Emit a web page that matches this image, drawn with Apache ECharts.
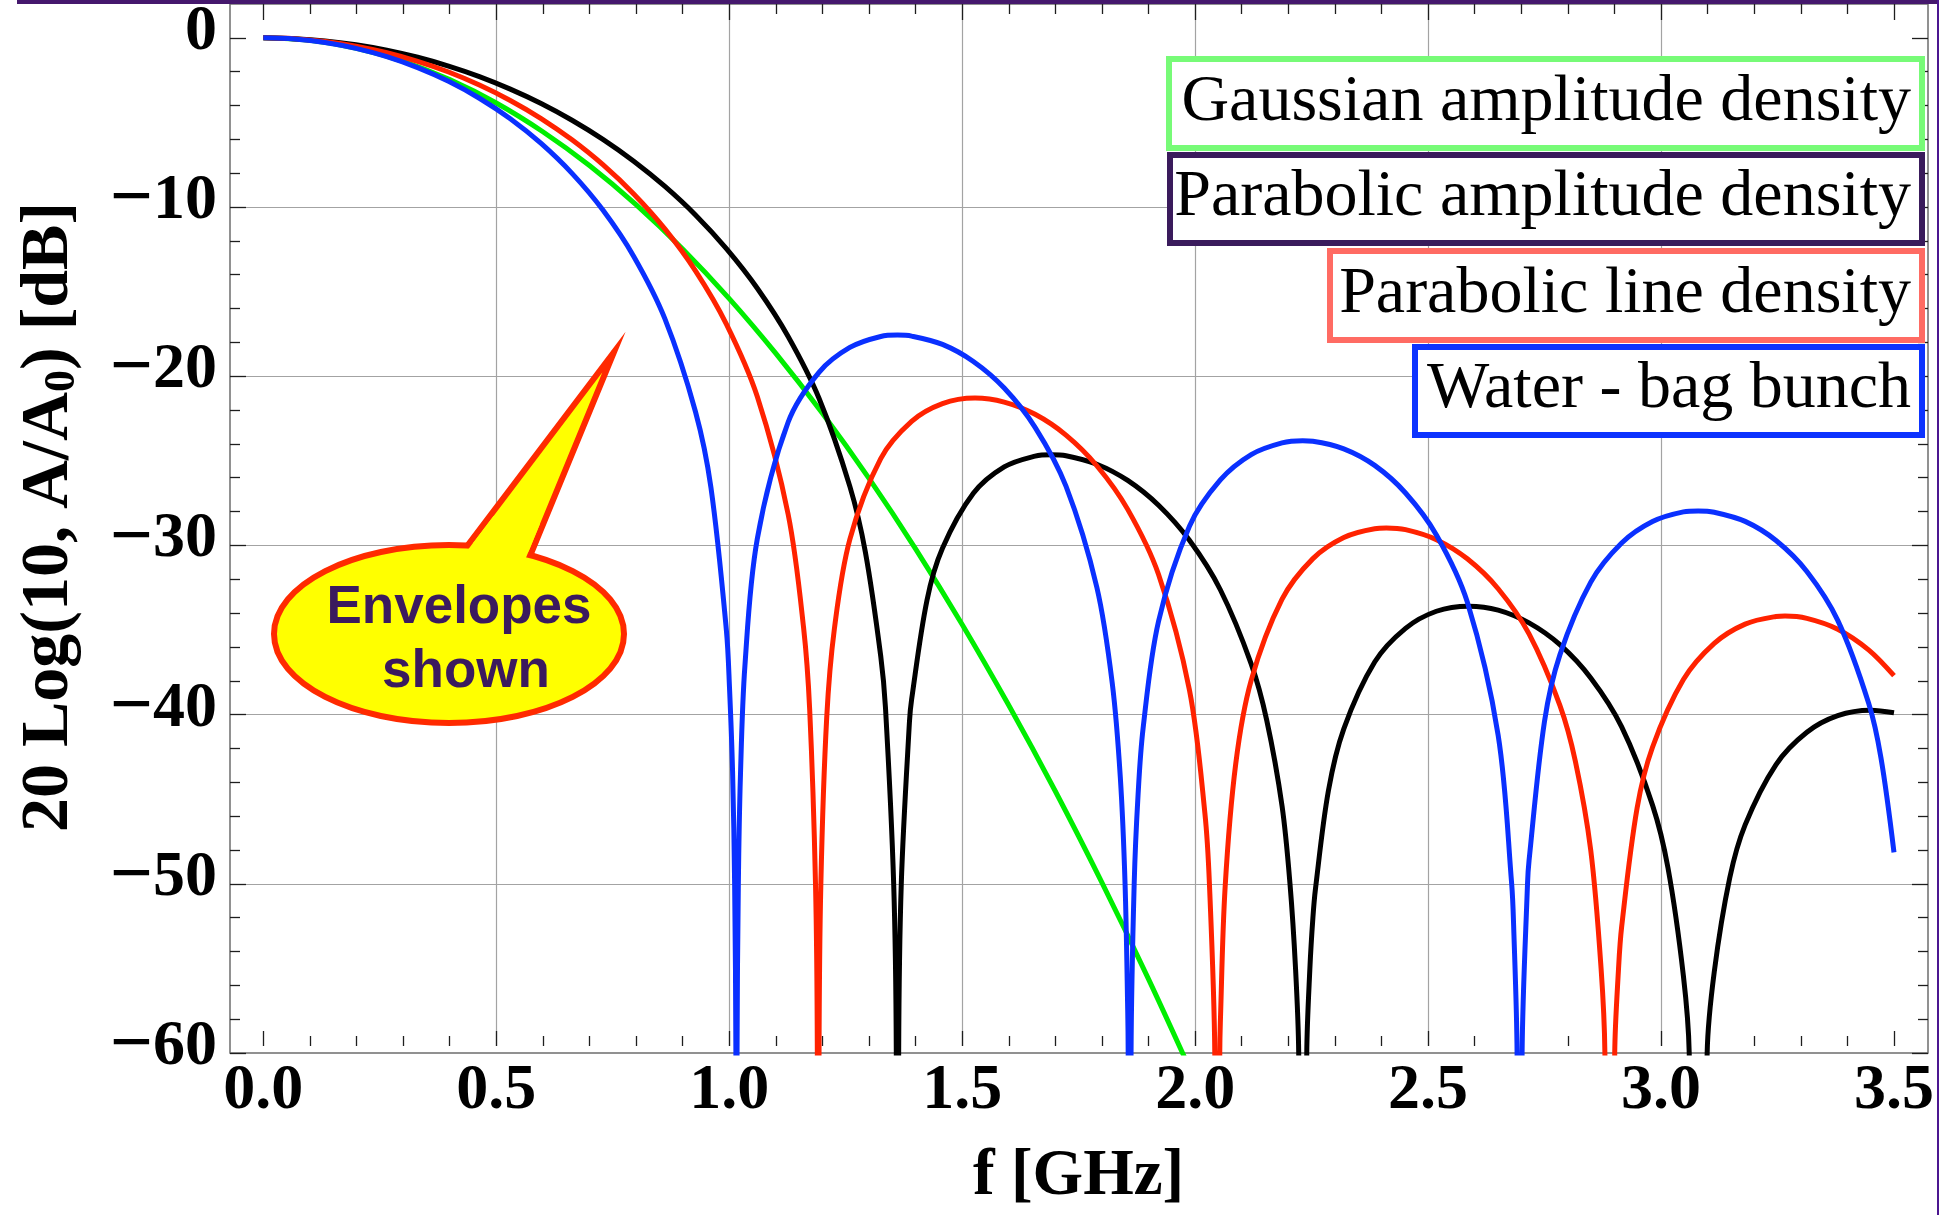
<!DOCTYPE html>
<html>
<head>
<meta charset="utf-8">
<script src="https://cdn.jsdelivr.net/npm/echarts@6/dist/echarts.min.js"></script>
<style>
html,body{margin:0;padding:0;background:#ffffff;}
#chart{width:1955px;height:1215px;}
</style>
</head>
<body>
<div id="chart"></div>
<script>
// ---------------- data ----------------
const xTicks = [0.0, 0.5, 1.0, 1.5, 2.0, 2.5, 3.0, 3.5];
const yTicks = [0, -10, -20, -30, -40, -50, -60];
const seriesNames = ['Gaussian amplitude density', 'Parabolic amplitude density', 'Parabolic line density', 'Water - bag bunch'];
const xTitle = 'f [GHz]';
const calloutLines = ['Envelopes', 'shown'];

// [f (GHz), 20 log10(A/A0) (dB)]
const gaussian = [[0,0],[0.1,-0.15],[0.2,-0.62],[0.3,-1.39],[0.4,-2.47],[0.5,-3.85],[0.6,-5.55],[0.7,-7.55],[0.8,-9.86],[0.9,-12.48],[1.0,-15.41],[1.1,-18.65],[1.2,-22.19],[1.3,-26.04],[1.4,-30.20],[1.5,-34.67],[1.6,-39.45],[1.7,-44.53],[1.8,-49.93],[1.9,-55.63],[2.0,-61.64]];

const parabolicAmplitude = [[0,0],[0.0663,-0.05],[0.1325,-0.18],[0.1988,-0.41],[0.2650,-0.73],[0.3313,-1.15],[0.3976,-1.67],[0.4638,-2.29],[0.5301,-3.03],[0.5963,-3.88],[0.6626,-4.87],[0.7289,-6.00],[0.7951,-7.29],[0.8614,-8.77],[0.9276,-10.47],[0.9939,-12.46],[1.0602,-14.80],[1.1264,-17.65],[1.1927,-21.30],[1.2589,-26.51],[1.2921,-30.37],[1.3252,-36.54],[1.3354,-39.60],[1.3530,-50.00],[1.3586,-60.00],[1.3611,-100],[1.3637,-60.00],[1.3693,-50.00],[1.3869,-40.40],[1.3915,-39.10],[1.4246,-33.22],[1.4577,-30.17],[1.5240,-26.92],[1.5902,-25.36],[1.6565,-24.72],[1.6910,-24.64],[1.7228,-24.70],[1.7890,-25.20],[1.8553,-26.16],[1.9215,-27.63],[1.9878,-29.70],[2.0541,-32.62],[2.1203,-37.00],[2.1535,-40.31],[2.1866,-45.41],[2.2036,-50.00],[2.2155,-55.00],[2.2223,-60.00],[2.2309,-100],[2.2396,-60.00],[2.2463,-55.00],[2.2528,-52.00],[2.2583,-50.30],[2.2860,-44.51],[2.3191,-40.84],[2.3854,-36.89],[2.4516,-34.90],[2.5179,-33.89],[2.5871,-33.59],[2.6504,-33.82],[2.7167,-34.58],[2.7829,-35.87],[2.8492,-37.84],[2.9155,-40.73],[2.9817,-45.35],[3.0149,-49.06],[3.0480,-55.44],[3.0605,-60.00],[3.0797,-100],[3.0990,-60.00],[3.1142,-55.21],[3.1474,-49.66],[3.1805,-46.52],[3.2468,-42.95],[3.3130,-41.04],[3.3793,-40.06],[3.4496,-39.74],[3.5000,-39.89]];

const parabolicLine = [[0,0],[0.0663,-0.05],[0.1325,-0.22],[0.1988,-0.49],[0.2650,-0.88],[0.3313,-1.39],[0.3976,-2.02],[0.4638,-2.79],[0.5301,-3.70],[0.5963,-4.77],[0.6626,-6.03],[0.7289,-7.50],[0.7951,-9.23],[0.8614,-11.28],[0.9276,-13.77],[0.9939,-16.92],[1.0602,-21.20],[1.1264,-28.15],[1.1596,-34.86],[1.1727,-39.70],[1.1852,-50.00],[1.1891,-60.00],[1.1909,-100],[1.1928,-60.00],[1.1967,-50.00],[1.2092,-40.20],[1.2258,-34.91],[1.2589,-29.64],[1.3252,-24.87],[1.3915,-22.67],[1.4577,-21.62],[1.5276,-21.29],[1.5902,-21.53],[1.6565,-22.25],[1.7228,-23.48],[1.7890,-25.29],[1.8553,-27.87],[1.9215,-31.72],[1.9878,-38.55],[2.0209,-45.81],[2.0307,-50.00],[2.0422,-60.00],[2.0475,-100],[2.0529,-60.00],[2.0541,-58.23],[2.0644,-50.20],[2.0872,-42.90],[2.1203,-37.98],[2.1866,-33.18],[2.2528,-30.78],[2.3191,-29.53],[2.3854,-29.01],[2.4105,-28.97],[2.4516,-29.07],[2.5179,-29.66],[2.5842,-30.79],[2.6504,-32.56],[2.7167,-35.23],[2.7829,-39.45],[2.8160,-42.74],[2.8492,-48.03],[2.8713,-55.00],[2.8795,-60.00],[2.8900,-100],[2.9006,-60.00],[2.9088,-55.00],[2.9155,-52.53],[2.9486,-45.53],[2.9817,-41.93],[3.0480,-37.93],[3.1142,-35.79],[3.1805,-34.65],[3.2468,-34.20],[3.2661,-34.17],[3.3130,-34.31],[3.3793,-34.95],[3.4455,-36.17],[3.5000,-37.70]];

const waterBag = [[0,0],[0.0663,-0.07],[0.1325,-0.27],[0.1988,-0.62],[0.2650,-1.11],[0.3313,-1.76],[0.3976,-2.57],[0.4638,-3.57],[0.5301,-4.78],[0.5963,-6.24],[0.6626,-8.01],[0.7289,-10.18],[0.7951,-12.92],[0.8614,-16.57],[0.9276,-22.10],[0.9608,-26.58],[0.9939,-35.01],[1.0006,-38.40],[1.0072,-43.36],[1.0116,-50.00],[1.0143,-60.00],[1.0156,-100],[1.0168,-60.00],[1.0196,-50.00],[1.0241,-43.60],[1.0337,-37.11],[1.0602,-29.62],[1.1264,-22.72],[1.1927,-19.77],[1.2589,-18.30],[1.3252,-17.65],[1.3611,-17.57],[1.3915,-17.63],[1.4577,-18.12],[1.5240,-19.13],[1.5902,-20.70],[1.6565,-23.02],[1.7228,-26.50],[1.7890,-32.47],[1.8222,-38.16],[1.8394,-43.70],[1.8496,-50.00],[1.8553,-57.47],[1.8563,-60.00],[1.8594,-100],[1.8625,-60.00],[1.8692,-50.00],[1.8774,-44.80],[1.8884,-40.79],[1.9215,-34.48],[1.9878,-28.86],[2.0541,-26.13],[2.1203,-24.63],[2.1866,-23.94],[2.2309,-23.81],[2.2528,-23.84],[2.3191,-24.29],[2.3854,-25.27],[2.4516,-26.90],[2.5179,-29.38],[2.5842,-33.35],[2.6504,-41.22],[2.6794,-50.00],[2.6836,-52.45],[2.6910,-60.00],[2.6964,-100],[2.7018,-60.00],[2.7134,-50.00],[2.7167,-48.63],[2.7498,-40.41],[2.7829,-36.47],[2.8492,-32.17],[2.9155,-29.86],[2.9817,-28.59],[3.0480,-28.02],[3.0797,-27.96],[3.1142,-28.04],[3.1805,-28.58],[3.2468,-29.71],[3.3130,-31.54],[3.3793,-34.43],[3.4455,-39.32],[3.4720,-42.55],[3.5000,-48.14]];

// ---------------- presentation ----------------
const seriesData = [gaussian, parabolicAmplitude, parabolicLine, waterBag];
const seriesColors = ['#00ee00', '#000000', '#ff2200', '#0a30ff'];
const legendBorders = ['#77fb77', '#3a1b5c', '#ff6b63', '#0d33ff'];
const SERIF = '"Liberation Serif","Times New Roman",Times,serif';
const SANS = '"Liberation Sans",Arial,Helvetica,sans-serif';
const TICK = {color: '#1e1e1e', width: 1.3};
const fmtY = v => (v === 0 ? '{n|0}' : '{m|\u2212}{n|' + Math.abs(v) + '}');
const fmtX = v => v.toFixed(1);

const chart = echarts.init(document.getElementById('chart'), null, {renderer: 'canvas', width: 1955, height: 1215});

const tickLabelStyle = {fontFamily: SERIF, fontWeight: 'bold', fontSize: 64, color: '#000'};

const legendBoxes = [
  {x: 1169, y: 59, w: 753, h: 89},
  {x: 1170, y: 155, w: 752, h: 88},
  {x: 1330, y: 251, w: 592, h: 89},
  {x: 1415, y: 347, w: 507, h: 88}
];

const graphics = [
  // slide border (purple)
  {type: 'rect', z: 200, silent: true, shape: {x: 17, y: 0, width: 1921, height: 4}, style: {fill: '#45186d'}},
  {type: 'rect', z: 200, silent: true, shape: {x: 1937, y: 0, width: 2, height: 1215}, style: {fill: '#4b1690'}},
  // y-axis title
  {type: 'text', z: 100, silent: true, x: 49, y: 517, rotation: Math.PI / 2,
    style: {
      text: '{a|20 Log(10, A/A}{s|0}{a|) [dB]}',
      align: 'center', verticalAlign: 'middle',
      rich: {
        a: {fontFamily: SERIF, fontWeight: 'bold', fontSize: 68, fill: '#000'},
        s: {fontFamily: SERIF, fontWeight: 'bold', fontSize: 44, fill: '#000', padding: [28, 0, 0, 0]}
      }
    }
  },
  // callout
  {type: 'polygon', z: 100, silent: true, shape: {points: [[614, 352], [446, 574], [518.5, 584]]},
    style: {fill: '#ffff00', stroke: '#ff2a00', lineWidth: 6, lineJoin: 'miter'}},
  {type: 'ellipse', z: 101, silent: true, shape: {cx: 449, cy: 634, rx: 175, ry: 89},
    style: {fill: '#ffff00', stroke: '#ff2a00', lineWidth: 6}},
  {type: 'polygon', z: 102, silent: true, shape: {points: [[493.5, 516], [540, 523.7], [515, 584.3], [449.5, 574]]},
    style: {fill: '#ffff00'}},
  {type: 'text', z: 103, silent: true, x: 459, y: 608,
    style: {text: calloutLines[0], fontFamily: SANS, fontWeight: 'bold', fontSize: 53, fill: '#3b1a5e', align: 'center', verticalAlign: 'middle'}},
  {type: 'text', z: 103, silent: true, x: 466, y: 672,
    style: {text: calloutLines[1], fontFamily: SANS, fontWeight: 'bold', fontSize: 53, fill: '#3b1a5e', align: 'center', verticalAlign: 'middle'}}
];
legendBoxes.forEach((b, i) => {
  graphics.push({type: 'rect', z: 100, silent: true, shape: {x: b.x, y: b.y, width: b.w, height: b.h},
    style: {fill: '#ffffff', stroke: legendBorders[i], lineWidth: 6}});
  graphics.push({type: 'text', z: 101, silent: true, x: 1911, y: b.y + b.h / 2 - 1,
    style: {text: seriesNames[i], fontFamily: SERIF, fontSize: 66, fill: '#000', align: 'right', verticalAlign: 'middle'}});
});

const option = {
  animation: false,
  backgroundColor: '#ffffff',
  grid: [
    {left: 230, top: 4, width: 1698, height: 1049, show: true, borderColor: '#6e6e6e', borderWidth: 1.5, backgroundColor: 'transparent'},
    {left: 263.3, top: 4, width: 1630.7, height: 1049},
    {left: 230, top: 37.84, width: 1698, height: 1015.16}
  ],
  xAxis: [
    {gridIndex: 0, type: 'value', min: -0.0715, max: 3.573, show: false},
    {gridIndex: 1, type: 'value', position: 'bottom', min: xTicks[0], max: xTicks[xTicks.length - 1], interval: 0.5,
      axisLine: {show: false},
      axisTick: {show: true, inside: true, length: 15, lineStyle: TICK},
      minorTick: {show: true, splitNumber: 5, length: 10, lineStyle: TICK},
      axisLabel: Object.assign({show: true, margin: 13, formatter: fmtX}, tickLabelStyle),
      splitLine: {show: true, showMinLine: false, showMaxLine: false, lineStyle: {color: '#a3a3a3', width: 1.2}},
      name: xTitle, nameLocation: 'middle', nameGap: 99,
      nameTextStyle: {fontFamily: SERIF, fontWeight: 'bold', fontSize: 65, color: '#000'}
    },
    {gridIndex: 1, type: 'value', position: 'top', min: xTicks[0], max: xTicks[xTicks.length - 1], interval: 0.5,
      axisLine: {show: false},
      axisTick: {show: true, inside: true, length: 16, lineStyle: TICK},
      minorTick: {show: true, splitNumber: 5, length: 10, lineStyle: TICK},
      axisLabel: {show: false}, splitLine: {show: false}
    },
    {gridIndex: 2, type: 'value', min: 0, max: 1, show: false}
  ],
  yAxis: [
    {gridIndex: 0, type: 'value', min: -60, max: 2, show: false},
    {gridIndex: 1, type: 'value', min: 0, max: 1, show: false},
    {gridIndex: 2, type: 'value', position: 'left', min: yTicks[yTicks.length - 1], max: yTicks[0], interval: 10,
      axisLine: {show: false},
      axisTick: {show: true, inside: true, length: 16, lineStyle: TICK},
      minorTick: {show: true, splitNumber: 5, length: 10, lineStyle: TICK},
      axisLabel: {show: true, margin: 13, formatter: fmtY, padding: [0, 0, 11, 0],
        rich: {
          m: {fontFamily: SERIF, fontWeight: 'bold', fontSize: 76, color: '#000'},
          n: {fontFamily: SERIF, fontWeight: 'bold', fontSize: 64, color: '#000'}
        }
      },
      splitLine: {show: true, showMinLine: false, showMaxLine: false, lineStyle: {color: '#a3a3a3', width: 1.2}}
    },
    {gridIndex: 2, type: 'value', position: 'right', min: yTicks[yTicks.length - 1], max: yTicks[0], interval: 10,
      axisLine: {show: false},
      axisTick: {show: true, inside: true, length: 16, lineStyle: TICK},
      minorTick: {show: true, splitNumber: 5, length: 10, lineStyle: TICK},
      axisLabel: {show: false}, splitLine: {show: false}
    }
  ],
  series: seriesData.map((d, i) => ({
    type: 'line', name: seriesNames[i], xAxisIndex: 0, yAxisIndex: 0,
    data: d, showSymbol: false, symbol: 'none', smooth: 0.34, clip: true,
    z: 2 + i,
    lineStyle: {color: seriesColors[i], width: 5, cap: 'butt', join: 'round'},
    emphasis: {disabled: true}
  })),
  graphic: {elements: graphics}
};

chart.setOption(option);
</script>
</body>
</html>
